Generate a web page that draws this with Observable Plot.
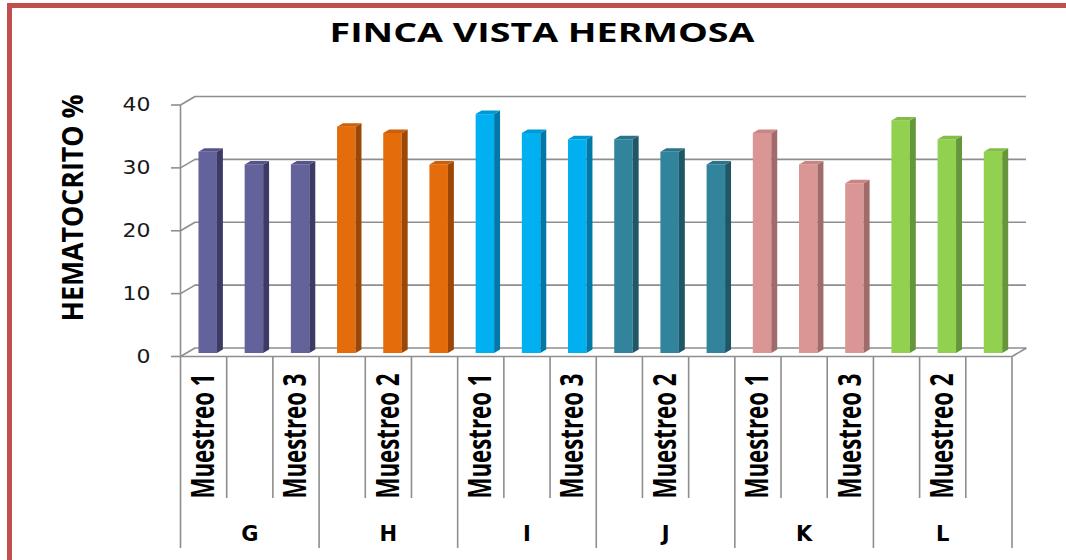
<!DOCTYPE html>
<html><head><meta charset="utf-8">
<script src="https://cdn.jsdelivr.net/npm/d3@7"></script>
<script src="https://cdn.jsdelivr.net/npm/@observablehq/plot@0.6"></script>
<style>
body{margin:0;background:#fff;}
#wrap{position:relative;width:1066px;height:560px;overflow:hidden;background:#fff;}
#border{position:absolute;left:7px;top:3px;width:1200px;height:700px;border-left:5px solid #c0504d;border-top:5px solid #c0504d;}
#chart{position:absolute;left:0;top:0;}
</style></head><body>
<div id="wrap"><div id="border"></div><div id="chart"></div></div>
<script>
// ---- data ----
const title = "FINCA VISTA HERMOSA";
const yTitle = "HEMATOCRITO %";
const groups = ["G", "H", "I", "J", "K", "L"];
const samples = ["Muestreo 1", "Muestreo 2", "Muestreo 3"];
const valuesG = [32, 30, 30];
const valuesH = [36, 35, 30];
const valuesI = [38, 35, 34];
const valuesJ = [34, 32, 30];
const valuesK = [35, 30, 27];
const valuesL = [37, 34, 32];
const yTicks = [0, 10, 20, 30, 40];
const frontColors = ["#64629a", "#e46c0a", "#00b0f0", "#31849b", "#d99694", "#92d050"];
const sideColors  = ["#3d3b66", "#9c4706", "#0079a8", "#1f5767", "#a06b69", "#65963a"];
const capColors   = ["#55538a", "#cc5f08", "#0099d4", "#2a7489", "#c88583", "#82bd45"];

const allValues = [valuesG, valuesH, valuesI, valuesJ, valuesK, valuesL];

// ---- pseudo 3D geometry (in data units) ----
const N = groups.length * samples.length;
const DX = 0.314, DY = 1.355;       // full depth offset of the box
const BL = 0.29, BR = 0.69;         // bar left/right within its slot
const F0 = 0.35, F1 = 0.76;         // bar front/back depth fraction

const bars = [];
allValues.forEach((vals, g) => vals.forEach((v, s) => {
  bars.push({i: g * 3 + s, g, s, v});
}));

const fronts = bars.map(b => ({
  x1: b.i + BL + F0 * DX, x2: b.i + BR + F0 * DX,
  y1: F0 * DY, y2: b.v + F0 * DY, color: frontColors[b.g]
}));
const sides = bars.flatMap(b => [
  {id: b.i, x: b.i + BR + F0 * DX, y1: F0 * DY, y2: b.v + F0 * DY, color: sideColors[b.g]},
  {id: b.i, x: b.i + BR + F1 * DX, y1: F1 * DY, y2: b.v + F1 * DY, color: sideColors[b.g]}
]);
const caps = bars.flatMap(b => {
  const v0 = b.v + F0 * DY, v1 = b.v + F1 * DY;
  return [
    {id: b.i, x: b.i + BL + F0 * DX, y1: v0, y2: v0, color: capColors[b.g]},
    {id: b.i, x: b.i + BL + F1 * DX, y1: v0, y2: v1, color: capColors[b.g]},
    {id: b.i, x: b.i + BR + F0 * DX, y1: v0, y2: v1, color: capColors[b.g]},
    {id: b.i, x: b.i + BR + F1 * DX, y1: v1, y2: v1, color: capColors[b.g]}
  ];
});

const yMax = d3.max(yTicks);
const shortTicks = d3.range(0, N + 1).filter(k => k % 3 !== 0);
const longTicks = d3.range(0, N + 1, 3);
const labelTicks = d3.range(0, N, 2).map(k => k + 0.5);
const groupTicks = groups.map((g, k) => k * 3 + 1.5);

const grid = "#8e8e8e";

const plot = Plot.plot({
  width: 1066, height: 560,
  marginLeft: 180, marginRight: 40, marginTop: 96, marginBottom: 204,
  x: {domain: [0, N + DX], axis: null},
  y: {domain: [0, yMax + DY], axis: null},
  color: {type: "identity"},
  style: {background: "transparent", overflow: "visible"},
  marks: [
    Plot.ruleY(yTicks, {y: d => d + DY, x1: DX, x2: N + DX, stroke: grid, strokeWidth: 1.6}),
    Plot.link(yTicks, {x1: 0, y1: d => d, x2: DX, y2: d => d + DY, stroke: grid, strokeWidth: 1.6}),
    Plot.ruleY([0], {x1: 0, x2: N, stroke: grid, strokeWidth: 1.6}),
    Plot.link([0], {x1: N, y1: 0, x2: N + DX, y2: DY, stroke: grid, strokeWidth: 1.6}),
    Plot.ruleX([0], {y1: 0, y2: yMax, stroke: grid, strokeWidth: 1.6}),
    Plot.axisY({ticks: yTicks, anchor: "left", tickSize: 9, tickPadding: 21, stroke: grid, strokeWidth: 1.6,
      fill: "#1a1a1a", fontSize: 19, fontFamily: "DejaVu Sans", label: null}),
    Plot.rect(fronts, {x1: "x1", x2: "x2", y1: "y1", y2: "y2", fill: "color"}),
    Plot.area(sides, {x1: "x", x2: "x", y1: "y1", y2: "y2", z: "id", fill: "color"}),
    Plot.area(caps, {x1: "x", x2: "x", y1: "y1", y2: "y2", z: "id", fill: "color"}),
    Plot.axisX({ticks: shortTicks, anchor: "bottom", tickSize: 142, tickFormat: () => "", stroke: grid, strokeWidth: 1.6, label: null}),
    Plot.axisX({ticks: longTicks, anchor: "bottom", tickSize: 192, tickFormat: () => "", stroke: grid, strokeWidth: 1.6, label: null}),
    Plot.axisX({ticks: labelTicks, anchor: "bottom", tickSize: 0, tickPadding: 17, tickRotate: -90,
      tickFormat: d => samples[Math.floor(d) % 3], fontSize: 32, fontFamily: "Open Sans", fontWeight: 700, fill: "#000", label: null}),
    Plot.axisX({ticks: groupTicks, anchor: "bottom", tickSize: 0, tickPadding: 170,
      tickFormat: d => groups[Math.floor(d / 3)], fontSize: 21, fontFamily: "DejaVu Sans", fontWeight: "bold", fill: "#000", label: null})
  ]
});

document.getElementById("chart").appendChild(plot);
const svg = d3.select(plot);

svg.selectAll("text").each(function() {
  const t = this.textContent;
  if (t.startsWith("Muestreo")) {
    d3.select(this).attr("textLength", 125).attr("lengthAdjust", "spacingAndGlyphs");
  } else if (/^\d+$/.test(t)) {
    d3.select(this).attr("textLength", 14 * t.length).attr("lengthAdjust", "spacingAndGlyphs");
  }
});

svg.append("text").text(title)
  .attr("x", 542).attr("y", 42).attr("text-anchor", "middle")
  .attr("font-family", "Open Sans").attr("font-weight", 700).attr("font-size", 27)
  .attr("textLength", 425).attr("lengthAdjust", "spacingAndGlyphs").attr("fill", "#000");

svg.append("text").text(yTitle)
  .attr("transform", "translate(83,208) rotate(-90)").attr("text-anchor", "middle")
  .attr("font-family", "Open Sans").attr("font-weight", 700).attr("font-size", 29)
  .attr("textLength", 227).attr("lengthAdjust", "spacingAndGlyphs").attr("fill", "#000");
</script>
</body></html>
